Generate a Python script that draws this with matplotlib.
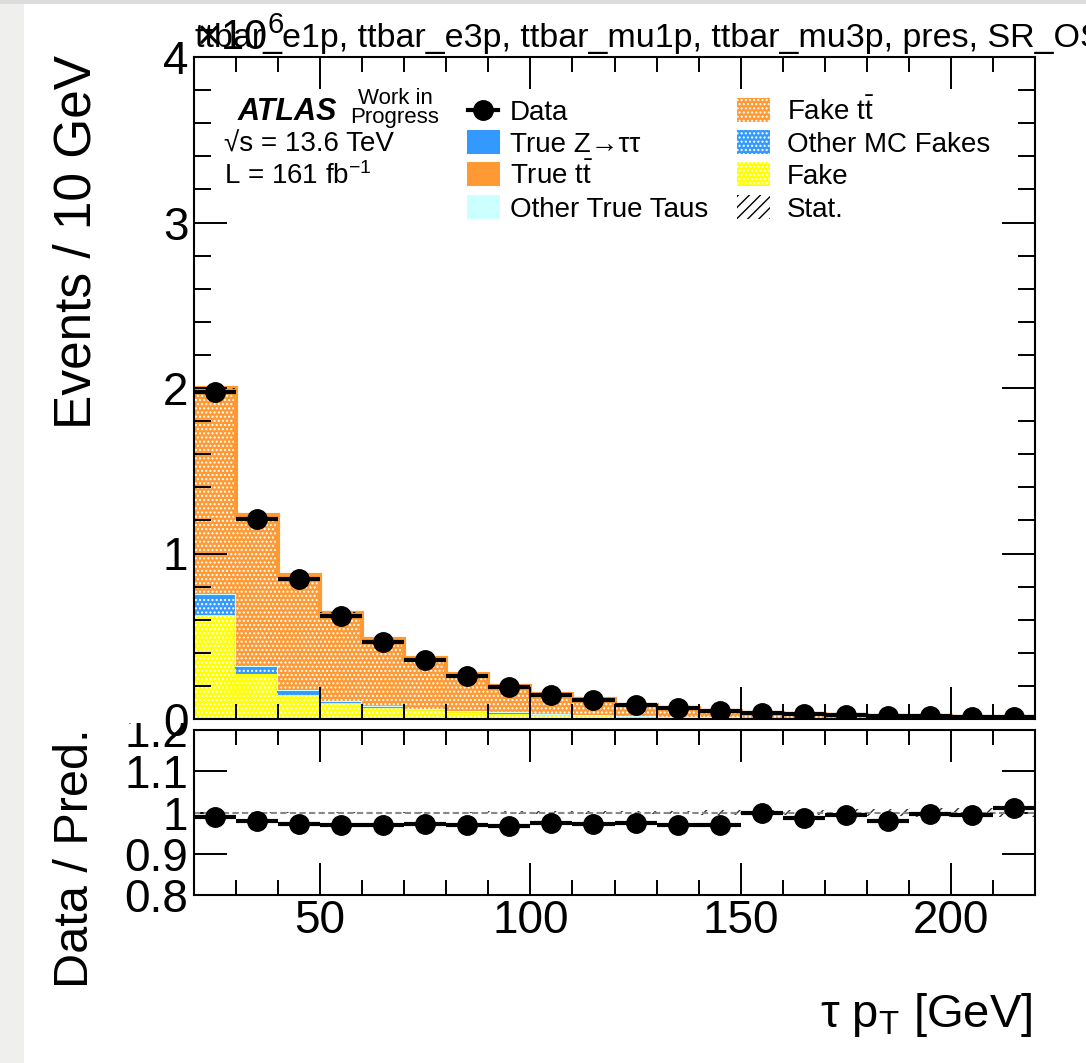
import numpy as np
import matplotlib
matplotlib.use("Agg")
import matplotlib.pyplot as plt
from matplotlib.patches import Rectangle
from matplotlib.ticker import MultipleLocator, FixedLocator, FuncFormatter, NullLocator

plt.rcParams['font.family'] = ['Liberation Sans', 'DejaVu Sans']
plt.rcParams['mathtext.fontset'] = 'custom'
plt.rcParams['mathtext.rm'] = 'Liberation Sans'
plt.rcParams['mathtext.it'] = 'Liberation Sans:italic'
plt.rcParams['mathtext.bf'] = 'Liberation Sans:bold'
plt.rcParams['hatch.linewidth'] = 1.0

# tau pT binning [GeV]
bin_edges = [20, 30, 40, 50, 60, 70, 80, 90, 100, 110, 120,
             130, 140, 150, 160, 170, 180, 190, 200, 210, 220]

# events per bin
data = [1974000, 1208000, 844000, 624000, 467000, 356000, 262000, 195000, 147000, 115000,
        82000, 65000, 49000, 38000, 29000, 24000, 19000, 16000, 12000, 10000]

fake = [630000, 270000, 145000, 95000, 70000, 54000, 44000, 36000, 28000, 22000,
        17000, 13000, 10000, 8000, 6000, 5000, 4000, 3500, 3000, 2500]
other_mc_fakes = [105000, 38000, 18000, 8000, 5000, 3500, 2500, 2000, 1500, 1200,
                  900, 700, 500, 400, 300, 250, 200, 150, 120, 100]
true_ztt = [15000, 12000, 12000, 6000, 4000, 2500, 2000, 1500, 1000, 800,
            600, 500, 400, 300, 250, 200, 150, 120, 100, 80]
other_true = [3000, 2000, 1500, 1000, 800, 600, 500, 400, 300, 250,
              200, 150, 120, 100, 80, 60, 50, 40, 30, 25]
fake_tt = [1235000, 903700, 686800, 529300, 398600, 303200, 219400, 160300, 118900, 93000,
           64700, 52000, 39000, 28900, 22500, 18400, 14800, 12100, 8700, 7100]
true_tt = [10000, 7000, 5000, 4000, 3000, 2500, 2000, 1500, 1200, 1000,
           700, 600, 450, 350, 280, 230, 180, 150, 110, 90]

# relative MC stat. uncertainty [%]
mc_stat_pct = [0.1, 0.1, 0.1, 0.1, 0.12, 0.15, 0.2, 0.25, 0.3, 0.35,
               0.4, 0.45, 0.5, 0.6, 0.7, 0.8, 0.9, 1.0, 1.1, 1.2]

title = "ttbar_e1p, ttbar_e3p, ttbar_mu1p, ttbar_mu3p, pres, SR_OS"

W, H = 1086, 1063
fig = plt.figure(figsize=(W / 100, H / 100), dpi=100)


def fx(px):
    return px / W


def fy(py):
    return 1 - py / H


AX_L, AX_R, AX_T, AX_B = 194, 1035, 57, 719
R_T, R_B = 730, 895
ax = fig.add_axes([fx(AX_L), fy(AX_B), (AX_R - AX_L) / W, (AX_B - AX_T) / H], zorder=1)
ax2 = fig.add_axes([fx(AX_L), fy(R_B), (AX_R - AX_L) / W, (R_B - R_T) / H], zorder=0.2)

edges = np.array(bin_edges, dtype=float)
centers = 0.5 * (edges[1:] + edges[:-1])
half_w = 0.5 * np.diff(edges)
data = np.array(data, dtype=float)

DOTS = '....'
layers = [
    (fake, '#ffff00', True),
    (other_mc_fakes, '#3399ff', True),
    (true_ztt, '#3399ff', False),
    (other_true, '#ccffff', False),
    (fake_tt, '#ff9933', True),
    (true_tt, '#ff9933', False),
]
bottom = np.zeros(len(data))
for vals, col, hatched in layers:
    top = bottom + np.array(vals, dtype=float)
    ax.stairs(top, edges, baseline=bottom, fill=True, facecolor=col,
              edgecolor='white' if hatched else col, hatch=DOTS if hatched else None,
              linewidth=0)
    ax.stairs(top, edges, baseline=None, color=col, lw=1.5)
    bottom = top
total = bottom
ax.stairs(total, edges, baseline=None, color='#ff9933', lw=3)

stat = total * np.array(mc_stat_pct) / 100
ax.stairs(total + stat, edges, baseline=total - stat, fill=True, facecolor='none',
          edgecolor='black', hatch='///', linewidth=0)

ax.errorbar(centers, data, xerr=half_w, yerr=np.sqrt(data), fmt='o', color='black',
            ms=14, elinewidth=3, capsize=0, zorder=5)

ax.set_xlim(20, 220)
ax.set_ylim(0, 4e6)

# ratio panel
ratio = data / total
ratio_err = np.sqrt(data) / total
rel = np.array(mc_stat_pct) / 100
ax2.stairs(1 + rel, edges, baseline=1 - rel, fill=True, facecolor='none',
           edgecolor='#333333', hatch='//', linewidth=0)
ax2.axhline(1, color='#888888', ls=(0, (3, 1.6)), lw=1.5)
ax2.errorbar(centers, ratio, xerr=half_w, yerr=ratio_err, fmt='o', color='black',
             ms=14, elinewidth=3, capsize=0, zorder=5)
ax2.set_xlim(20, 220)
ax2.set_ylim(0.8, 1.2)

for a in (ax, ax2):
    for s in a.spines.values():
        s.set_linewidth(1.5)
    a.tick_params(which='both', direction='in', top=True, right=True, width=1.4,
                  labelsize=33)
    a.xaxis.set_major_locator(MultipleLocator(50))
    a.xaxis.set_minor_locator(MultipleLocator(10))
    a.tick_params(axis='x', which='major', length=23, pad=3)
    a.tick_params(axis='x', which='minor', length=11)
    a.tick_params(axis='y', which='major', length=24, pad=4)
    a.tick_params(axis='y', which='minor', length=12)

ax.yaxis.set_major_locator(MultipleLocator(1e6))
ax.yaxis.set_minor_locator(MultipleLocator(2e5))
ax.yaxis.set_major_formatter(FuncFormatter(lambda v, p: f"{v / 1e6:g}"))
ax.tick_params(labelbottom=False)

ax2.yaxis.set_major_locator(FixedLocator([0.8, 0.9, 1.0, 1.1, 1.2]))
ax2.yaxis.set_minor_locator(NullLocator())
ax2.yaxis.set_major_formatter(FuncFormatter(lambda v, p: f"{v:g}"))

# white cover of the upper pad (clips top of the "1.2" label like ROOT)
fig.add_artist(Rectangle((fx(24), fy(723)), 1, 723 / H, transform=fig.transFigure,
                         facecolor='white', edgecolor='none', zorder=0.5))
# screenshot border
fig.add_artist(Rectangle((0, 0), fx(24), 1, transform=fig.transFigure,
                         facecolor='#efefed', edgecolor='none', zorder=6))
fig.add_artist(Rectangle((0, fy(4)), 1, 4 / H, transform=fig.transFigure,
                         facecolor='#dcdcdc', edgecolor='none', zorder=6))

# axis titles
fig.text(fx(77), fy(55), "Events / 10 GeV", rotation=90, ha='center', va='top', fontsize=37)
fig.text(fx(76), fy(728), "Data / Pred.", rotation=90, ha='center', va='top', fontsize=35)
fig.text(fx(1033), fy(1027), r"τ p$_{\mathrm{T}}$ [GeV]", ha='right', va='baseline',
         fontsize=34)

# title and exponent
fig.text(fx(195), fy(47), title, ha='left', va='baseline', fontsize=24.5)
fig.text(fx(196), fy(50), r"×10$^{6}$", ha='left', va='baseline', fontsize=30)


def axp(px, py):
    return (px - AX_L) / (AX_R - AX_L), (AX_B - py) / (AX_B - AX_T)


def atext(px, py, s, **kw):
    x, y = axp(px, py)
    ax.text(x, y, s, transform=ax.transAxes, va='baseline', ha=kw.pop('ha', 'left'), **kw)


# ATLAS label
atext(238, 120, "ATLAS", fontsize=22, fontweight='bold', fontstyle='italic')
atext(395, 104, "Work in", fontsize=16, ha='center')
atext(395, 123, "Progress", fontsize=16, ha='center')
atext(224, 152, "√s = 13.6 TeV", fontsize=20)
atext(224, 184, "L = 161 fb$^{-1}$", fontsize=20)

# legend
rows = [110, 142, 174, 207]


def box(px0, py_c, col, hatch=None, edge=None):
    x0, y0 = axp(px0, py_c + 12)
    x1, y1 = axp(px0 + 33, py_c - 12)
    ax.add_patch(Rectangle((x0, y0), x1 - x0, y1 - y0, transform=ax.transAxes,
                           facecolor=col, edgecolor=edge if edge else col,
                           hatch=hatch, linewidth=0, zorder=6))


xa, ya = axp(468, rows[0])
xb, _ = axp(498, rows[0])
xm, _ = axp(483, rows[0])
ax.plot([xa, xb], [ya, ya], color='black', lw=3, transform=ax.transAxes, zorder=6)
ax.plot([xm], [ya], 'o', color='black', ms=14, transform=ax.transAxes, zorder=6)
atext(510, rows[0] + 10, "Data", fontsize=20)
box(467, rows[1], '#3399ff')
atext(510, rows[1] + 10, "True Z→ττ", fontsize=20)
box(467, rows[2], '#ff9933')
atext(510, rows[2] + 10, r"True t$\bar{\mathrm{t}}$", fontsize=20)
box(467, rows[3], '#ccffff')
atext(510, rows[3] + 10, "Other True Taus", fontsize=20)

box(737, rows[0], '#ff9933', DOTS, 'white')
atext(787, rows[0] + 10, r"Fake t$\bar{\mathrm{t}}$", fontsize=20)
box(737, rows[1], '#3399ff', DOTS, 'white')
atext(787, rows[1] + 10, "Other MC Fakes", fontsize=20)
box(737, rows[2], '#ffff00', DOTS, 'white')
atext(787, rows[2] + 10, "Fake", fontsize=20)
box(737, rows[3], 'none', '///', 'black')
atext(787, rows[3] + 10, "Stat.", fontsize=20)

fig.savefig("out.png", dpi=100)
